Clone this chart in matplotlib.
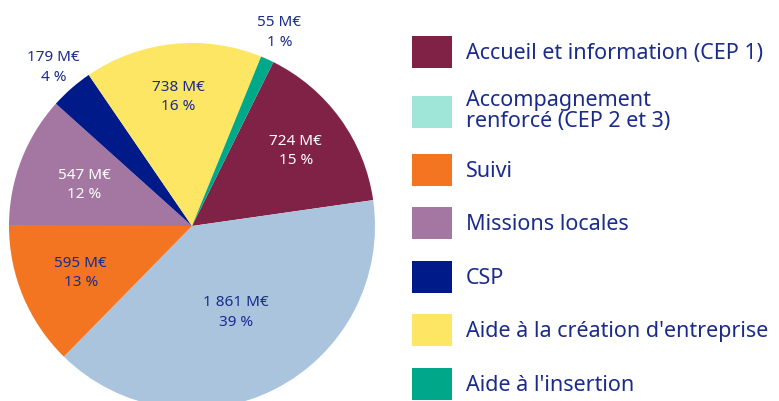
import numpy as np
import matplotlib
matplotlib.use("Agg")
import matplotlib.pyplot as plt
from matplotlib.patches import Patch

plt.rcParams['font.family'] = ['Noto Sans', 'DejaVu Sans']

# data (clockwise from the top right)
categories = ["Accueil et information (CEP 1)", "Accompagnement\nrenforcé (CEP 2 et 3)", "Suivi",
              "Missions locales", "CSP", "Aide à la création d'entreprise", "Aide à l'insertion"]
amounts = [724, 1861, 595, 547, 179, 738, 55]          # M€
percents = [15, 39, 13, 12, 4, 16, 1]
amount_labels = ["724", "1 861", "595", "547", "179", "738", "55"]

pie_colors = ["#7f2245", "#aac4de", "#f47521", "#a377a2", "#001a8a", "#fee665", "#00a88a"]
legend_colors = ["#7f2245", "#9fe6d8", "#f47521", "#a377a2", "#001a8a", "#fee665", "#00a88a"]
text_colors = ["white", "#1a2b8c", "#1a2b8c", "white", "#1a2b8c", "#1a2b8c", "#1a2b8c"]
label_radius = [0.70, 0.53, 0.66, 0.63, 1.15, 0.71, 1.16]
navy = "#1a2b8c"

W, H = 779, 401
fig = plt.figure(figsize=(W / 100, H / 100), dpi=100)

# pie axes: center (192, 226) px, radius 183 px
cx, cy, r = 192, 226, 183
ax = fig.add_axes([(cx - r) / W, (H - cy - r) / H, 2 * r / W, 2 * r / H])
wedges, _ = ax.pie(amounts, colors=pie_colors, startangle=63.6, counterclock=False,
                   radius=1, wedgeprops=dict(linewidth=0))
ax.set_xlim(-1, 1)
ax.set_ylim(-1, 1)
ax.set_aspect('equal')
ax.axis('off')

for w, amt, pct, col, rad in zip(wedges, amount_labels, percents, text_colors, label_radius):
    ang = np.deg2rad((w.theta1 + w.theta2) / 2)
    x, y = rad * np.cos(ang), rad * np.sin(ang)
    ax.text(x, y, "{} M€\n{} %".format(amt, pct), ha='center', va='center',
            fontsize=11, color=col, linespacing=1.4, clip_on=False)

handles = [Patch(facecolor=c, edgecolor='none') for c in legend_colors]
leg = fig.legend(handles, categories, loc='upper left', bbox_to_anchor=(412 / W, 1 - 36 / H),
                 frameon=False, fontsize=15.5, handlelength=1.86, handleheight=1.91,
                 handletextpad=0.65, labelspacing=1.0, borderaxespad=0, borderpad=0)
for t in leg.get_texts():
    t.set_color(navy)
    t.set_linespacing(1.05)

fig.savefig("out.png", dpi=100)
